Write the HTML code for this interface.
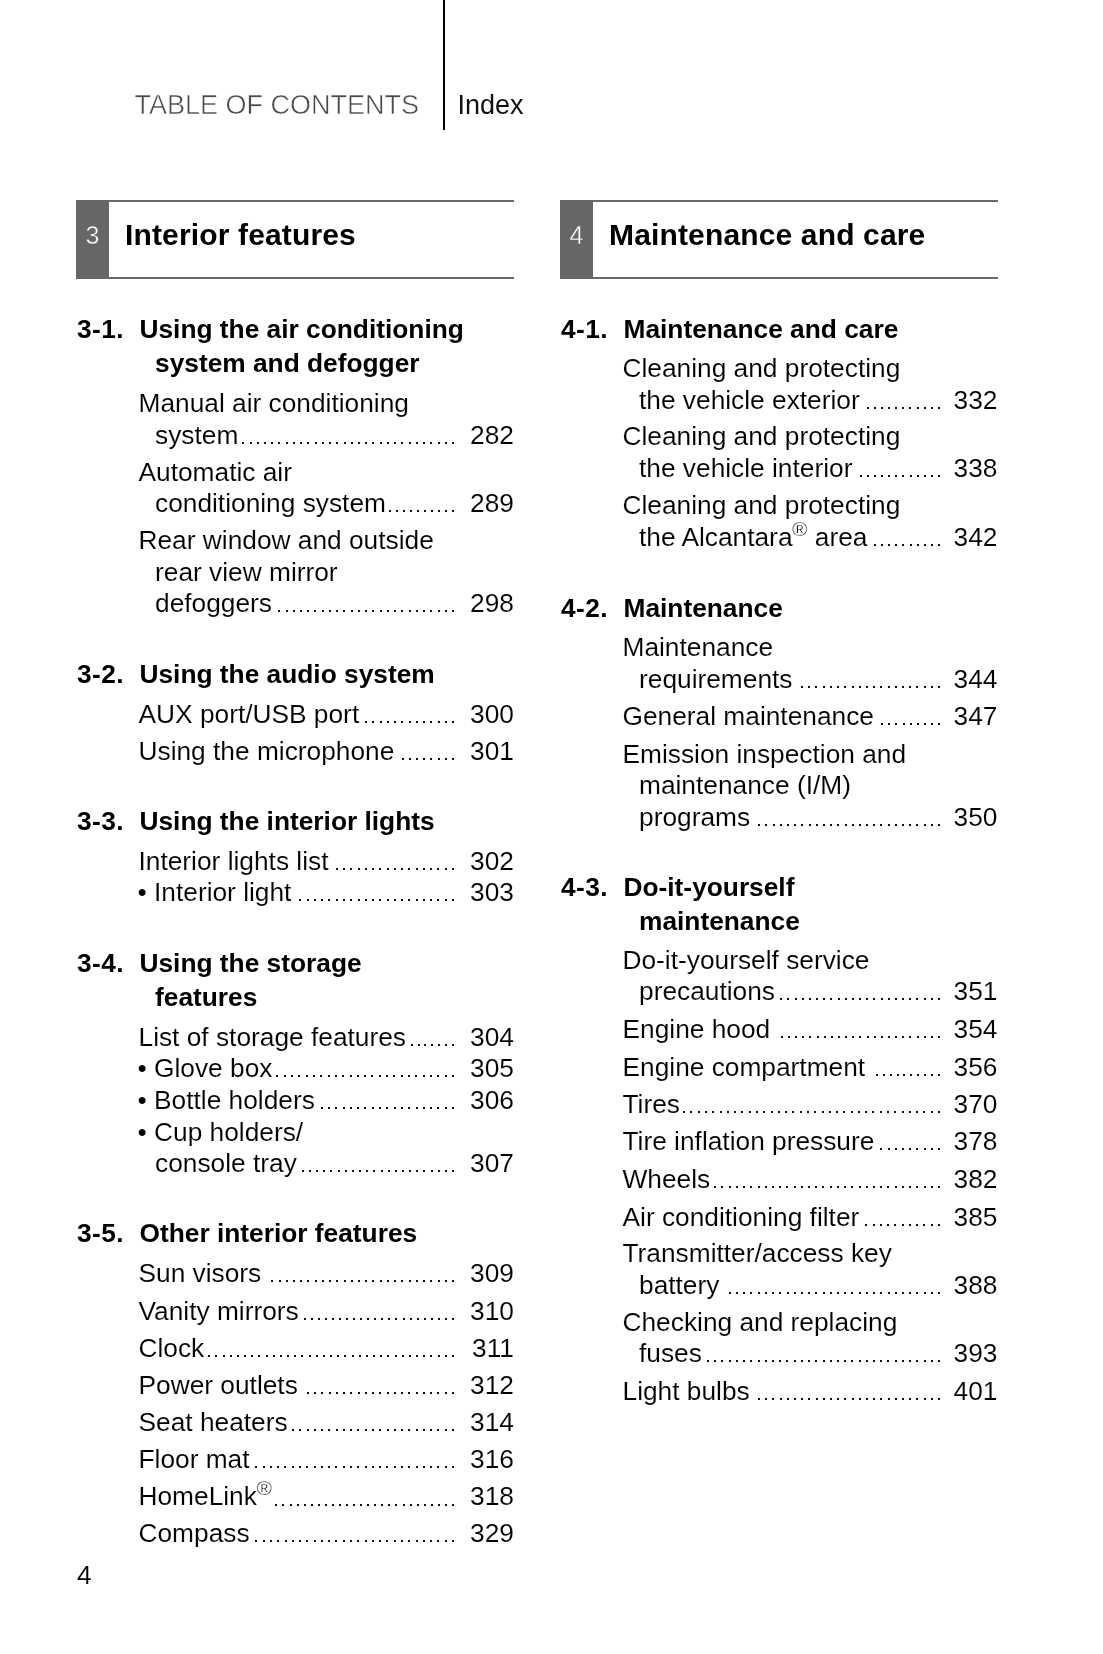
<!DOCTYPE html>
<html><head><meta charset="utf-8"><style>
html,body{margin:0;padding:0;background:#fff;}
.pg{position:absolute;left:0;top:0;width:1103px;height:1654px;will-change:transform;}
body{width:1103px;height:1654px;position:relative;overflow:hidden;font-family:"Liberation Sans",sans-serif;color:#000;}
.ln{position:absolute;font-size:26.3px;line-height:30px;white-space:nowrap;-webkit-text-stroke:0.1px #fff;}
.b{font-weight:bold;-webkit-text-stroke:0;}
.hn{letter-spacing:0.4px;}
.dot{position:absolute;width:2px;height:2px;background:#111;}
.pn{width:80px;text-align:right;}
.bu{margin-left:-1px;}
sup{font-size:21px;line-height:0;vertical-align:10.5px;-webkit-text-stroke:0.35px #fff;margin-left:-0.5px;}
.vline{position:absolute;left:443px;top:0;width:2px;height:130px;background:#000;}
.hdr{position:absolute;font-size:27px;line-height:30px;white-space:nowrap;}
.box{position:absolute;top:200px;height:79px;width:438px;}
.box .tl{position:absolute;left:0;top:0;right:0;height:2px;background:#6a6a6a;}
.box .bl{position:absolute;left:0;bottom:0;right:0;height:2px;background:#6a6a6a;}
.box .gb{position:absolute;left:0;top:0;bottom:0;width:33px;background:#666;}
.box .nm{position:absolute;left:0;width:33px;text-align:center;top:20px;font-size:25px;line-height:30px;color:#fff;-webkit-text-stroke:0.4px #666;}
.box .tt{position:absolute;left:49px;top:18px;font-size:30px;line-height:34px;font-weight:bold;white-space:nowrap;letter-spacing:0.15px;}
</style></head><body>
<div class="pg">
<div class="vline"></div>
<div class="hdr" style="left:134.5px;top:89.6px;color:#4a4a4a;-webkit-text-stroke:0.5px #fff;">TABLE OF CONTENTS</div>
<div class="hdr" style="left:457.5px;top:89.6px;color:#111;">Index</div>
<div class="box" style="left:76px"><div class="tl"></div><div class="bl"></div><div class="gb"></div><div class="nm">3</div><div class="tt">Interior features</div></div>
<div class="box" style="left:560px"><div class="tl"></div><div class="bl"></div><div class="gb"></div><div class="nm">4</div><div class="tt">Maintenance and care</div></div>
<div class="ln b hn" style="top:313.6px;left:77px">3-1.</div>
<div class="ln b ht" style="top:313.6px;left:139.5px">Using the air conditioning</div>
<div class="ln b ht" style="top:347.5px;left:155px">system and defogger</div>
<div class="ln" style="top:387.8px;left:138.5px">Manual air conditioning</div>
<div class="ln" style="top:419.5px;left:155px"><span class="tx">system</span></div>
<div class="dot" style="left:242px;top:442px;box-shadow:8px 0 #111,15px 0 #111,22px 0 #111,29px 0 #111,36px 0 #111,44px 0 #111,51px 0 #111,58px 0 #111,65px 0 #111,73px 0 #111,80px 0 #111,87px 0 #111,94px 0 #111,102px 0 #111,109px 0 #111,116px 0 #111,123px 0 #111,130px 0 #111,138px 0 #111,145px 0 #111,152px 0 #111,159px 0 #111,167px 0 #111,174px 0 #111,181px 0 #111,188px 0 #111,196px 0 #111,203px 0 #111,210px 0 #111"></div>
<div class="ln pn" style="top:419.5px;left:434px">282</div>
<div class="ln" style="top:456.7px;left:138.5px">Automatic air</div>
<div class="ln" style="top:487.9px;left:155px"><span class="tx">conditioning system</span></div>
<div class="dot" style="left:389px;top:510px;box-shadow:7px 0 #111,14px 0 #111,21px 0 #111,28px 0 #111,35px 0 #111,42px 0 #111,49px 0 #111,56px 0 #111,63px 0 #111"></div>
<div class="ln pn" style="top:487.9px;left:434px">289</div>
<div class="ln" style="top:524.8px;left:138.5px">Rear window and outside</div>
<div class="ln" style="top:556.6px;left:155px">rear view mirror</div>
<div class="ln" style="top:588.3px;left:155px"><span class="tx">defoggers</span></div>
<div class="dot" style="left:278px;top:610px;box-shadow:8px 0 #111,15px 0 #111,22px 0 #111,29px 0 #111,36px 0 #111,44px 0 #111,51px 0 #111,58px 0 #111,65px 0 #111,73px 0 #111,80px 0 #111,87px 0 #111,94px 0 #111,102px 0 #111,109px 0 #111,116px 0 #111,123px 0 #111,131px 0 #111,138px 0 #111,145px 0 #111,152px 0 #111,160px 0 #111,167px 0 #111,174px 0 #111"></div>
<div class="ln pn" style="top:588.3px;left:434px">298</div>
<div class="ln b hn" style="top:658.9px;left:77px">3-2.</div>
<div class="ln b ht" style="top:658.9px;left:139.5px">Using the audio system</div>
<div class="ln" style="top:698.7px;left:138.5px"><span class="tx">AUX port/USB port</span></div>
<div class="dot" style="left:365px;top:721px;box-shadow:7px 0 #111,15px 0 #111,22px 0 #111,29px 0 #111,36px 0 #111,44px 0 #111,51px 0 #111,58px 0 #111,65px 0 #111,73px 0 #111,80px 0 #111,87px 0 #111"></div>
<div class="ln pn" style="top:698.7px;left:434px">300</div>
<div class="ln" style="top:735.7px;left:138.5px"><span class="tx">Using the microphone</span></div>
<div class="dot" style="left:402px;top:758px;box-shadow:7px 0 #111,14px 0 #111,21px 0 #111,28px 0 #111,36px 0 #111,43px 0 #111,50px 0 #111"></div>
<div class="ln pn" style="top:735.7px;left:434px">301</div>
<div class="ln b hn" style="top:805.9px;left:77px">3-3.</div>
<div class="ln b ht" style="top:805.9px;left:139.5px">Using the interior lights</div>
<div class="ln" style="top:845.9px;left:138.5px"><span class="tx">Interior lights list</span></div>
<div class="dot" style="left:336px;top:868px;box-shadow:7px 0 #111,14px 0 #111,22px 0 #111,29px 0 #111,36px 0 #111,43px 0 #111,51px 0 #111,58px 0 #111,65px 0 #111,72px 0 #111,80px 0 #111,87px 0 #111,94px 0 #111,101px 0 #111,109px 0 #111,116px 0 #111"></div>
<div class="ln pn" style="top:845.9px;left:434px">302</div>
<div class="ln" style="top:876.9px;left:138.5px"><span class="tx"><span class="bu">•</span> Interior light</span></div>
<div class="dot" style="left:299px;top:899px;box-shadow:8px 0 #111,15px 0 #111,22px 0 #111,29px 0 #111,37px 0 #111,44px 0 #111,51px 0 #111,59px 0 #111,66px 0 #111,73px 0 #111,80px 0 #111,88px 0 #111,95px 0 #111,102px 0 #111,109px 0 #111,117px 0 #111,124px 0 #111,131px 0 #111,138px 0 #111,146px 0 #111,153px 0 #111"></div>
<div class="ln pn" style="top:876.9px;left:434px">303</div>
<div class="ln b hn" style="top:947.9px;left:77px">3-4.</div>
<div class="ln b ht" style="top:947.9px;left:139.5px">Using the storage</div>
<div class="ln b ht" style="top:981.9px;left:155px">features</div>
<div class="ln" style="top:1021.5px;left:138.5px"><span class="tx">List of storage features</span></div>
<div class="dot" style="left:411px;top:1044px;box-shadow:7px 0 #111,13px 0 #111,20px 0 #111,27px 0 #111,34px 0 #111,41px 0 #111"></div>
<div class="ln pn" style="top:1021.5px;left:434px">304</div>
<div class="ln" style="top:1053.3px;left:138.5px"><span class="tx"><span class="bu">•</span> Glove box</span></div>
<div class="dot" style="left:276px;top:1075px;box-shadow:8px 0 #111,15px 0 #111,22px 0 #111,30px 0 #111,37px 0 #111,44px 0 #111,52px 0 #111,59px 0 #111,66px 0 #111,74px 0 #111,81px 0 #111,88px 0 #111,95px 0 #111,103px 0 #111,110px 0 #111,117px 0 #111,125px 0 #111,132px 0 #111,139px 0 #111,147px 0 #111,154px 0 #111,161px 0 #111,169px 0 #111,176px 0 #111"></div>
<div class="ln pn" style="top:1053.3px;left:434px">305</div>
<div class="ln" style="top:1085.1px;left:138.5px"><span class="tx"><span class="bu">•</span> Bottle holders</span></div>
<div class="dot" style="left:321px;top:1107px;box-shadow:7px 0 #111,14px 0 #111,22px 0 #111,29px 0 #111,36px 0 #111,43px 0 #111,51px 0 #111,58px 0 #111,65px 0 #111,73px 0 #111,80px 0 #111,87px 0 #111,95px 0 #111,102px 0 #111,109px 0 #111,116px 0 #111,124px 0 #111,131px 0 #111"></div>
<div class="ln pn" style="top:1085.1px;left:434px">306</div>
<div class="ln" style="top:1117.0px;left:138.5px"><span class="bu">•</span> Cup holders/</div>
<div class="ln" style="top:1147.7px;left:155px"><span class="tx">console tray</span></div>
<div class="dot" style="left:302px;top:1170px;box-shadow:7px 0 #111,14px 0 #111,21px 0 #111,28px 0 #111,36px 0 #111,43px 0 #111,50px 0 #111,57px 0 #111,64px 0 #111,71px 0 #111,79px 0 #111,86px 0 #111,93px 0 #111,100px 0 #111,107px 0 #111,114px 0 #111,121px 0 #111,129px 0 #111,136px 0 #111,143px 0 #111,150px 0 #111"></div>
<div class="ln pn" style="top:1147.7px;left:434px">307</div>
<div class="ln b hn" style="top:1218.0px;left:77px">3-5.</div>
<div class="ln b ht" style="top:1218.0px;left:139.5px">Other interior features</div>
<div class="ln" style="top:1258.0px;left:138.5px"><span class="tx">Sun visors</span></div>
<div class="dot" style="left:271px;top:1280px;box-shadow:8px 0 #111,15px 0 #111,22px 0 #111,29px 0 #111,36px 0 #111,44px 0 #111,51px 0 #111,58px 0 #111,65px 0 #111,73px 0 #111,80px 0 #111,87px 0 #111,94px 0 #111,101px 0 #111,109px 0 #111,116px 0 #111,123px 0 #111,130px 0 #111,138px 0 #111,145px 0 #111,152px 0 #111,159px 0 #111,167px 0 #111,174px 0 #111,181px 0 #111"></div>
<div class="ln pn" style="top:1258.0px;left:434px">309</div>
<div class="ln" style="top:1295.7px;left:138.5px"><span class="tx">Vanity mirrors</span></div>
<div class="dot" style="left:304px;top:1318px;box-shadow:7px 0 #111,14px 0 #111,21px 0 #111,28px 0 #111,35px 0 #111,42px 0 #111,49px 0 #111,56px 0 #111,63px 0 #111,70px 0 #111,77px 0 #111,84px 0 #111,91px 0 #111,99px 0 #111,106px 0 #111,113px 0 #111,120px 0 #111,127px 0 #111,134px 0 #111,141px 0 #111,148px 0 #111"></div>
<div class="ln pn" style="top:1295.7px;left:434px">310</div>
<div class="ln" style="top:1333.0px;left:138.5px"><span class="tx">Clock</span></div>
<div class="dot" style="left:208px;top:1355px;box-shadow:7px 0 #111,15px 0 #111,22px 0 #111,29px 0 #111,36px 0 #111,43px 0 #111,50px 0 #111,58px 0 #111,65px 0 #111,72px 0 #111,79px 0 #111,86px 0 #111,93px 0 #111,101px 0 #111,108px 0 #111,115px 0 #111,122px 0 #111,129px 0 #111,136px 0 #111,144px 0 #111,151px 0 #111,158px 0 #111,165px 0 #111,172px 0 #111,179px 0 #111,187px 0 #111,194px 0 #111,201px 0 #111,208px 0 #111,215px 0 #111,222px 0 #111,230px 0 #111,237px 0 #111,244px 0 #111"></div>
<div class="ln pn" style="top:1333.0px;left:434px">311</div>
<div class="ln" style="top:1370.0px;left:138.5px"><span class="tx">Power outlets</span></div>
<div class="dot" style="left:307px;top:1392px;box-shadow:7px 0 #111,14px 0 #111,22px 0 #111,29px 0 #111,36px 0 #111,43px 0 #111,51px 0 #111,58px 0 #111,65px 0 #111,72px 0 #111,80px 0 #111,87px 0 #111,94px 0 #111,101px 0 #111,109px 0 #111,116px 0 #111,123px 0 #111,130px 0 #111,138px 0 #111,145px 0 #111"></div>
<div class="ln pn" style="top:1370.0px;left:434px">312</div>
<div class="ln" style="top:1407.2px;left:138.5px"><span class="tx">Seat heaters</span></div>
<div class="dot" style="left:292px;top:1429px;box-shadow:7px 0 #111,15px 0 #111,22px 0 #111,29px 0 #111,36px 0 #111,44px 0 #111,51px 0 #111,58px 0 #111,65px 0 #111,73px 0 #111,80px 0 #111,87px 0 #111,95px 0 #111,102px 0 #111,109px 0 #111,116px 0 #111,124px 0 #111,131px 0 #111,138px 0 #111,145px 0 #111,153px 0 #111,160px 0 #111"></div>
<div class="ln pn" style="top:1407.2px;left:434px">314</div>
<div class="ln" style="top:1444.2px;left:138.5px"><span class="tx">Floor mat</span></div>
<div class="dot" style="left:255px;top:1466px;box-shadow:8px 0 #111,15px 0 #111,22px 0 #111,29px 0 #111,37px 0 #111,44px 0 #111,51px 0 #111,59px 0 #111,66px 0 #111,73px 0 #111,80px 0 #111,88px 0 #111,95px 0 #111,102px 0 #111,110px 0 #111,117px 0 #111,124px 0 #111,131px 0 #111,139px 0 #111,146px 0 #111,153px 0 #111,161px 0 #111,168px 0 #111,175px 0 #111,182px 0 #111,190px 0 #111,197px 0 #111"></div>
<div class="ln pn" style="top:1444.2px;left:434px">316</div>
<div class="ln" style="top:1481.4px;left:138.5px"><span class="tx">HomeLink<sup>®</sup></span></div>
<div class="dot" style="left:275px;top:1504px;box-shadow:7px 0 #111,15px 0 #111,22px 0 #111,29px 0 #111,36px 0 #111,43px 0 #111,50px 0 #111,57px 0 #111,64px 0 #111,71px 0 #111,78px 0 #111,85px 0 #111,92px 0 #111,99px 0 #111,106px 0 #111,113px 0 #111,120px 0 #111,128px 0 #111,135px 0 #111,142px 0 #111,149px 0 #111,156px 0 #111,163px 0 #111,170px 0 #111,177px 0 #111"></div>
<div class="ln pn" style="top:1481.4px;left:434px">318</div>
<div class="ln" style="top:1518.0px;left:138.5px"><span class="tx">Compass</span></div>
<div class="dot" style="left:255px;top:1540px;box-shadow:8px 0 #111,15px 0 #111,22px 0 #111,30px 0 #111,37px 0 #111,44px 0 #111,51px 0 #111,59px 0 #111,66px 0 #111,73px 0 #111,80px 0 #111,88px 0 #111,95px 0 #111,102px 0 #111,110px 0 #111,117px 0 #111,124px 0 #111,131px 0 #111,139px 0 #111,146px 0 #111,153px 0 #111,161px 0 #111,168px 0 #111,175px 0 #111,182px 0 #111,190px 0 #111,197px 0 #111"></div>
<div class="ln pn" style="top:1518.0px;left:434px">329</div>
<div class="ln b hn" style="top:313.9px;left:561px">4-1.</div>
<div class="ln b ht" style="top:313.9px;left:623.5px">Maintenance and care</div>
<div class="ln" style="top:353.3px;left:622.5px">Cleaning and protecting</div>
<div class="ln" style="top:384.9px;left:639px"><span class="tx">the vehicle exterior</span></div>
<div class="dot" style="left:867px;top:407px;box-shadow:7px 0 #111,14px 0 #111,21px 0 #111,28px 0 #111,35px 0 #111,42px 0 #111,50px 0 #111,57px 0 #111,64px 0 #111,71px 0 #111"></div>
<div class="ln pn" style="top:384.9px;left:917.5px">332</div>
<div class="ln" style="top:421.3px;left:622.5px">Cleaning and protecting</div>
<div class="ln" style="top:453.3px;left:639px"><span class="tx">the vehicle interior</span></div>
<div class="dot" style="left:860px;top:475px;box-shadow:7px 0 #111,14px 0 #111,21px 0 #111,28px 0 #111,35px 0 #111,42px 0 #111,50px 0 #111,57px 0 #111,64px 0 #111,71px 0 #111,78px 0 #111"></div>
<div class="ln pn" style="top:453.3px;left:917.5px">338</div>
<div class="ln" style="top:490.3px;left:622.5px">Cleaning and protecting</div>
<div class="ln" style="top:522.4px;left:639px"><span class="tx">the Alcantara<sup>®</sup> area</span></div>
<div class="dot" style="left:874px;top:544px;box-shadow:7px 0 #111,14px 0 #111,21px 0 #111,28px 0 #111,36px 0 #111,43px 0 #111,50px 0 #111,57px 0 #111,64px 0 #111"></div>
<div class="ln pn" style="top:522.4px;left:917.5px">342</div>
<div class="ln b hn" style="top:593.1px;left:561px">4-2.</div>
<div class="ln b ht" style="top:593.1px;left:623.5px">Maintenance</div>
<div class="ln" style="top:632.4px;left:622.5px">Maintenance</div>
<div class="ln" style="top:663.5px;left:639px"><span class="tx">requirements</span></div>
<div class="dot" style="left:801px;top:686px;box-shadow:7px 0 #111,14px 0 #111,22px 0 #111,29px 0 #111,36px 0 #111,43px 0 #111,51px 0 #111,58px 0 #111,65px 0 #111,72px 0 #111,79px 0 #111,87px 0 #111,94px 0 #111,101px 0 #111,108px 0 #111,115px 0 #111,123px 0 #111,130px 0 #111,137px 0 #111"></div>
<div class="ln pn" style="top:663.5px;left:917.5px">344</div>
<div class="ln" style="top:701.2px;left:622.5px"><span class="tx">General maintenance</span></div>
<div class="dot" style="left:881px;top:723px;box-shadow:7px 0 #111,14px 0 #111,22px 0 #111,29px 0 #111,36px 0 #111,43px 0 #111,50px 0 #111,57px 0 #111"></div>
<div class="ln pn" style="top:701.2px;left:917.5px">347</div>
<div class="ln" style="top:738.5px;left:622.5px">Emission inspection and</div>
<div class="ln" style="top:769.9px;left:639px">maintenance (I/M)</div>
<div class="ln" style="top:801.7px;left:639px"><span class="tx">programs</span></div>
<div class="dot" style="left:758px;top:824px;box-shadow:7px 0 #111,15px 0 #111,22px 0 #111,29px 0 #111,36px 0 #111,43px 0 #111,51px 0 #111,58px 0 #111,65px 0 #111,72px 0 #111,79px 0 #111,87px 0 #111,94px 0 #111,101px 0 #111,108px 0 #111,115px 0 #111,122px 0 #111,130px 0 #111,137px 0 #111,144px 0 #111,151px 0 #111,158px 0 #111,166px 0 #111,173px 0 #111,180px 0 #111"></div>
<div class="ln pn" style="top:801.7px;left:917.5px">350</div>
<div class="ln b hn" style="top:871.7px;left:561px">4-3.</div>
<div class="ln b ht" style="top:871.7px;left:623.5px">Do-it-yourself</div>
<div class="ln b ht" style="top:906.4px;left:639px">maintenance</div>
<div class="ln" style="top:944.9px;left:622.5px">Do-it-yourself service</div>
<div class="ln" style="top:976.4px;left:639px"><span class="tx">precautions</span></div>
<div class="dot" style="left:780px;top:998px;box-shadow:7px 0 #111,15px 0 #111,22px 0 #111,29px 0 #111,36px 0 #111,43px 0 #111,50px 0 #111,58px 0 #111,65px 0 #111,72px 0 #111,79px 0 #111,86px 0 #111,93px 0 #111,101px 0 #111,108px 0 #111,115px 0 #111,122px 0 #111,129px 0 #111,136px 0 #111,144px 0 #111,151px 0 #111,158px 0 #111"></div>
<div class="ln pn" style="top:976.4px;left:917.5px">351</div>
<div class="ln" style="top:1014.4px;left:622.5px"><span class="tx">Engine hood</span></div>
<div class="dot" style="left:781px;top:1036px;box-shadow:7px 0 #111,14px 0 #111,21px 0 #111,28px 0 #111,36px 0 #111,43px 0 #111,50px 0 #111,57px 0 #111,64px 0 #111,71px 0 #111,78px 0 #111,86px 0 #111,93px 0 #111,100px 0 #111,107px 0 #111,114px 0 #111,121px 0 #111,128px 0 #111,136px 0 #111,143px 0 #111,150px 0 #111,157px 0 #111"></div>
<div class="ln pn" style="top:1014.4px;left:917.5px">354</div>
<div class="ln" style="top:1052.2px;left:622.5px"><span class="tx">Engine compartment</span></div>
<div class="dot" style="left:876px;top:1074px;box-shadow:7px 0 #111,14px 0 #111,21px 0 #111,27px 0 #111,34px 0 #111,41px 0 #111,48px 0 #111,55px 0 #111,62px 0 #111"></div>
<div class="ln pn" style="top:1052.2px;left:917.5px">356</div>
<div class="ln" style="top:1088.7px;left:622.5px"><span class="tx">Tires</span></div>
<div class="dot" style="left:683px;top:1111px;box-shadow:7px 0 #111,15px 0 #111,22px 0 #111,29px 0 #111,37px 0 #111,44px 0 #111,51px 0 #111,58px 0 #111,66px 0 #111,73px 0 #111,80px 0 #111,88px 0 #111,95px 0 #111,102px 0 #111,109px 0 #111,117px 0 #111,124px 0 #111,131px 0 #111,139px 0 #111,146px 0 #111,153px 0 #111,160px 0 #111,168px 0 #111,175px 0 #111,182px 0 #111,189px 0 #111,197px 0 #111,204px 0 #111,211px 0 #111,219px 0 #111,226px 0 #111,233px 0 #111,240px 0 #111,248px 0 #111,255px 0 #111"></div>
<div class="ln pn" style="top:1088.7px;left:917.5px">370</div>
<div class="ln" style="top:1126.1px;left:622.5px"><span class="tx">Tire inflation pressure</span></div>
<div class="dot" style="left:880px;top:1148px;box-shadow:8px 0 #111,15px 0 #111,22px 0 #111,29px 0 #111,36px 0 #111,44px 0 #111,51px 0 #111,58px 0 #111"></div>
<div class="ln pn" style="top:1126.1px;left:917.5px">378</div>
<div class="ln" style="top:1164.1px;left:622.5px"><span class="tx">Wheels</span></div>
<div class="dot" style="left:714px;top:1186px;box-shadow:7px 0 #111,15px 0 #111,22px 0 #111,29px 0 #111,36px 0 #111,44px 0 #111,51px 0 #111,58px 0 #111,65px 0 #111,72px 0 #111,80px 0 #111,87px 0 #111,94px 0 #111,101px 0 #111,108px 0 #111,116px 0 #111,123px 0 #111,130px 0 #111,137px 0 #111,145px 0 #111,152px 0 #111,159px 0 #111,166px 0 #111,173px 0 #111,181px 0 #111,188px 0 #111,195px 0 #111,202px 0 #111,210px 0 #111,217px 0 #111,224px 0 #111"></div>
<div class="ln pn" style="top:1164.1px;left:917.5px">382</div>
<div class="ln" style="top:1201.5px;left:622.5px"><span class="tx">Air conditioning filter</span></div>
<div class="dot" style="left:865px;top:1224px;box-shadow:8px 0 #111,15px 0 #111,22px 0 #111,29px 0 #111,37px 0 #111,44px 0 #111,51px 0 #111,58px 0 #111,66px 0 #111,73px 0 #111"></div>
<div class="ln pn" style="top:1201.5px;left:917.5px">385</div>
<div class="ln" style="top:1238.1px;left:622.5px">Transmitter/access key</div>
<div class="ln" style="top:1270.3px;left:639px"><span class="tx">battery</span></div>
<div class="dot" style="left:729px;top:1292px;box-shadow:7px 0 #111,14px 0 #111,21px 0 #111,29px 0 #111,36px 0 #111,43px 0 #111,50px 0 #111,58px 0 #111,65px 0 #111,72px 0 #111,79px 0 #111,86px 0 #111,94px 0 #111,101px 0 #111,108px 0 #111,115px 0 #111,122px 0 #111,130px 0 #111,137px 0 #111,144px 0 #111,151px 0 #111,159px 0 #111,166px 0 #111,173px 0 #111,180px 0 #111,187px 0 #111,195px 0 #111,202px 0 #111,209px 0 #111"></div>
<div class="ln pn" style="top:1270.3px;left:917.5px">388</div>
<div class="ln" style="top:1307.0px;left:622.5px">Checking and replacing</div>
<div class="ln" style="top:1337.9px;left:639px"><span class="tx">fuses</span></div>
<div class="dot" style="left:707px;top:1360px;box-shadow:7px 0 #111,14px 0 #111,22px 0 #111,29px 0 #111,36px 0 #111,43px 0 #111,51px 0 #111,58px 0 #111,65px 0 #111,72px 0 #111,79px 0 #111,87px 0 #111,94px 0 #111,101px 0 #111,108px 0 #111,116px 0 #111,123px 0 #111,130px 0 #111,137px 0 #111,144px 0 #111,152px 0 #111,159px 0 #111,166px 0 #111,173px 0 #111,180px 0 #111,188px 0 #111,195px 0 #111,202px 0 #111,209px 0 #111,217px 0 #111,224px 0 #111,231px 0 #111"></div>
<div class="ln pn" style="top:1337.9px;left:917.5px">393</div>
<div class="ln" style="top:1375.8px;left:622.5px"><span class="tx">Light bulbs</span></div>
<div class="dot" style="left:758px;top:1398px;box-shadow:7px 0 #111,14px 0 #111,22px 0 #111,29px 0 #111,36px 0 #111,43px 0 #111,50px 0 #111,58px 0 #111,65px 0 #111,72px 0 #111,79px 0 #111,86px 0 #111,94px 0 #111,101px 0 #111,108px 0 #111,115px 0 #111,122px 0 #111,130px 0 #111,137px 0 #111,144px 0 #111,151px 0 #111,158px 0 #111,166px 0 #111,173px 0 #111,180px 0 #111"></div>
<div class="ln pn" style="top:1375.8px;left:917.5px">401</div>
<div class="ln" style="top:1559.5px;left:77px">4</div>
</div>
</body></html>
